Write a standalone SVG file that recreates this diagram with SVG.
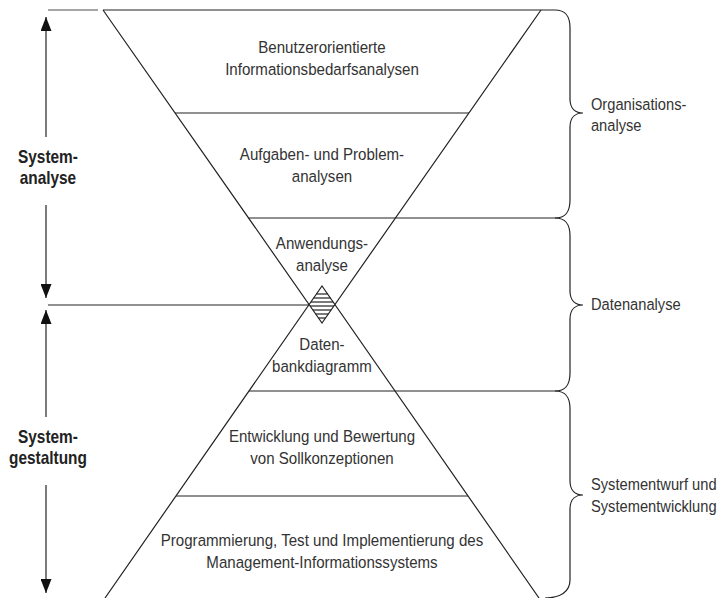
<svg xmlns="http://www.w3.org/2000/svg" width="724" height="598" viewBox="0 0 724 598">
<defs>
<style>
.ln{stroke:#222;stroke-width:1.2;fill:none}
.gl{stroke:#888;stroke-width:1.5;fill:none}
.t{font-family:"Liberation Sans",Arial,sans-serif;font-size:16.5px;fill:#333}
.c{text-anchor:middle}
.b{font-family:"Liberation Sans",Arial,sans-serif;font-size:17.5px;font-weight:bold;fill:#222;text-anchor:middle}
</style>
<marker id="ah" markerUnits="userSpaceOnUse" markerWidth="14" markerHeight="11" refX="14" refY="5.5" orient="auto">
<path d="M0,0 L14,5.5 L0,11 z" fill="#111"/>
</marker>
</defs>
<rect width="724" height="598" fill="#fff"/>

<g id="funnel">
<line class="gl" x1="48" y1="10" x2="98" y2="10"/>
<line class="ln" x1="103" y1="10" x2="555" y2="10"/>
<polyline class="ln" points="103,10 322,323 541,10"/>
<polyline class="ln" points="105,598 322,286 539,598"/>
<line class="ln" x1="175" y1="113" x2="469" y2="113"/>
<line class="ln" x1="248.5" y1="218" x2="555" y2="218"/>
<line class="ln" x1="48" y1="305" x2="309" y2="305"/>
<line class="ln" x1="249" y1="391" x2="555" y2="391"/>
<line class="ln" x1="176" y1="496" x2="468" y2="496"/>
</g>

<g id="hatch">
<line class="ln" x1="316.4" y1="294" x2="327.6" y2="294"/>
<line class="ln" x1="313.7" y1="298" x2="330.3" y2="298"/>
<line class="ln" x1="310.9" y1="302" x2="333.1" y2="302"/>
<line class="ln" x1="310.1" y1="306" x2="333.9" y2="306"/>
<line class="ln" x1="312.9" y1="310" x2="331.1" y2="310"/>
<line class="ln" x1="315.7" y1="314" x2="328.3" y2="314"/>
<line class="ln" x1="318.5" y1="318" x2="325.5" y2="318"/>
</g>

<g id="braces">
<path class="ln" d="M555,10 C565,10 570,15 570,28 L570,99 C570,109 576,113 583,113 C576,113 570,117 570,127 L570,200 C570,213 565,218 555,218"/>
<path class="ln" d="M555,218 C565,218 570,223 570,236 L570,291 C570,301 576,305 583,305 C576,305 570,309 570,319 L570,373 C570,386 565,391 555,391"/>
<path class="ln" d="M555,391 C565,391 570,396 570,409 L570,481 C570,491 576,495 583,495 C576,495 570,499 570,509 L570,580 C570,592 560,598 545,598"/>
</g>

<g id="connectors">
<line class="ln" x1="46" y1="137" x2="46" y2="17" marker-end="url(#ah)"/>
<line class="ln" x1="46" y1="205" x2="46" y2="298" marker-end="url(#ah)"/>
<line class="ln" x1="46" y1="417" x2="46" y2="310" marker-end="url(#ah)"/>
<line class="ln" x1="46" y1="485" x2="46" y2="593" marker-end="url(#ah)"/>
</g>

<g id="node-informationsbedarf" transform="scale(0.915 1)">
<text class="t c" x="351.9" y="53">Benutzerorientierte</text>
<text class="t c" x="351.9" y="75">Informationsbedarfsanalysen</text>
</g>
<g id="node-aufgaben" transform="scale(0.915 1)">
<text class="t c" x="351.9" y="160">Aufgaben- und Problem-</text>
<text class="t c" x="351.9" y="182">analysen</text>
</g>
<g id="node-anwendung" transform="scale(0.915 1)">
<text class="t c" x="351.9" y="249">Anwendungs-</text>
<text class="t c" x="351.9" y="271">analyse</text>
</g>
<g id="node-datenbank" transform="scale(0.915 1)">
<text class="t c" x="351.9" y="350">Daten-</text>
<text class="t c" x="351.9" y="372">bankdiagramm</text>
</g>
<g id="node-sollkonzeption" transform="scale(0.915 1)">
<text class="t c" x="351.9" y="442">Entwicklung und Bewertung</text>
<text class="t c" x="351.9" y="464">von Sollkonzeptionen</text>
</g>
<g id="node-implementierung" transform="scale(0.915 1)">
<text class="t c" x="351.9" y="546">Programmierung, Test und Implementierung des</text>
<text class="t c" x="351.9" y="568">Management-Informationssystems</text>
</g>
<g id="node-organisation" transform="scale(0.89 1)">
<text class="t" x="664" y="110">Organisations-</text>
<text class="t" x="664" y="131">analyse</text>
</g>
<g id="node-datenanalyse" transform="scale(0.89 1)">
<text class="t" x="664" y="310">Datenanalyse</text>
</g>
<g id="node-systementwurf" transform="scale(0.89 1)">
<text class="t" x="664" y="490">Systementwurf und</text>
<text class="t" x="664" y="512">Systementwicklung</text>
</g>
<g id="node-systemanalyse" transform="scale(0.88 1)">
<text class="b" x="54.5" y="163">System-</text>
<text class="b" x="54.5" y="184">analyse</text>
</g>
<g id="node-systemgestaltung" transform="scale(0.88 1)">
<text class="b" x="54.5" y="443">System-</text>
<text class="b" x="54.5" y="464">gestaltung</text>
</g>
</svg>
